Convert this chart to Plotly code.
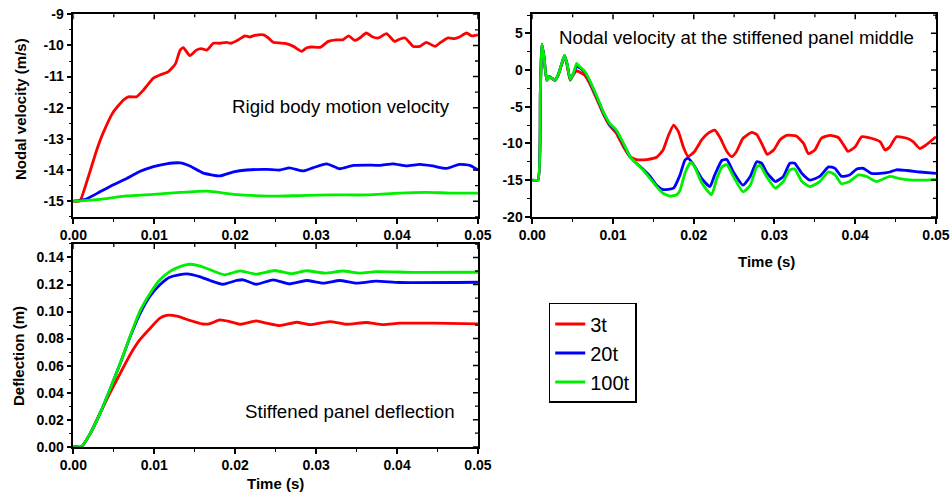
import plotly.graph_objects as go

# ---------------- data ----------------
series_names = ["3t", "20t", "100t"]
series_colors = ["#ff0000", "#0000ff", "#00ee00"]

# Rigid body motion velocity (m/s)
rb_t_3t = [0, 0.0008, 0.0012, 0.0020, 0.0029, 0.0037, 0.0049, 0.0062, 0.0068, 0.0078, 0.0086, 0.0099,
           0.0107, 0.0117, 0.0126, 0.0132, 0.0136, 0.0144, 0.0152, 0.0158, 0.0165, 0.0173, 0.0181, 0.0189,
           0.0195, 0.0204, 0.0212, 0.0218, 0.0224, 0.0235, 0.0241, 0.0247, 0.0255, 0.0263, 0.0272, 0.0282,
           0.0288, 0.0294, 0.0305, 0.0315, 0.0325, 0.0333, 0.0340, 0.0348, 0.0354, 0.0362, 0.0370, 0.0377,
           0.0387, 0.0397, 0.0403, 0.0410, 0.0420, 0.0428, 0.0436, 0.0447, 0.0453, 0.0463, 0.0471, 0.0477,
           0.0486, 0.0492, 0.0500]
rb_v_3t = [-15.0, -15.0, -14.75, -14.1, -13.35, -12.8, -12.15, -11.75, -11.65, -11.65, -11.45, -11.05,
           -10.95, -10.85, -10.6, -10.15, -10.07, -10.33, -10.15, -10.1, -10.15, -9.93, -9.93, -9.9,
           -9.93, -9.82, -9.69, -9.73, -9.68, -9.66, -9.76, -9.9, -9.92, -9.94, -10.03, -10.19,
           -10.08, -10.05, -10.06, -9.87, -9.82, -9.82, -9.69, -9.84, -9.76, -9.6, -9.73, -9.76,
           -9.62, -9.87, -9.8, -9.76, -10.03, -10.03, -9.9, -10.03, -9.92, -9.76, -9.78, -9.73,
           -9.6, -9.69, -9.66]
rb_t_20t = [0, 0.0016, 0.0033, 0.0049, 0.0066, 0.0082, 0.0099, 0.0115, 0.0132, 0.0144, 0.0160, 0.0181,
            0.0198, 0.0214, 0.0239, 0.0255, 0.0267, 0.0284, 0.0296, 0.0313, 0.0329, 0.0346, 0.0362, 0.0379,
            0.0395, 0.0412, 0.0428, 0.0444, 0.0461, 0.0477, 0.0490, 0.0500]
rb_v_20t = [-15.0, -14.93, -14.7, -14.48, -14.27, -14.05, -13.89, -13.8, -13.77, -13.87, -14.09, -14.19,
            -14.06, -14.0, -13.98, -14.0, -13.93, -14.03, -13.93, -13.8, -13.96, -13.85, -13.84, -13.85,
            -13.8, -13.87, -13.82, -13.87, -13.95, -13.82, -13.85, -14.0]
rb_t_100t = [0, 0.0033, 0.0066, 0.0099, 0.0132, 0.0165, 0.0198, 0.0230, 0.0251, 0.0280, 0.0321, 0.0362,
             0.0403, 0.0436, 0.0465, 0.0500]
rb_v_100t = [-15.0, -14.94, -14.83, -14.78, -14.72, -14.68, -14.78, -14.83, -14.84, -14.82, -14.8, -14.8,
             -14.74, -14.72, -14.74, -14.74]

# Nodal velocity at the stiffened panel middle (m/s)
mid_t_early = [0, 0.0007, 0.0010, 0.0012, 0.00145, 0.0018, 0.0021, 0.0024, 0.0028, 0.0032, 0.0036, 0.0040,
               0.0043, 0.0047, 0.0051, 0.0055, 0.0059, 0.0065, 0.0071, 0.0080, 0.0088, 0.0096, 0.0104,
               0.0113, 0.0121, 0.0129, 0.0137]
mid_t_3t = mid_t_early[:25] + [0.0129, 0.0142, 0.0154, 0.0162, 0.0168, 0.0175, 0.0181, 0.0187, 0.0193,
                              0.0201, 0.0210, 0.0218, 0.0226, 0.0232, 0.0241, 0.0247, 0.0253, 0.0261,
                              0.0272, 0.0278, 0.0286, 0.0291, 0.0299, 0.0307, 0.0315, 0.0327, 0.0336,
                              0.0342, 0.0350, 0.0358, 0.0369, 0.0379, 0.0387, 0.0391, 0.0400, 0.0408,
                              0.0420, 0.0431, 0.0437, 0.0443, 0.0451, 0.0464, 0.0472, 0.0480, 0.0488,
                              0.0500]
mid_v_3t = [-15.0, -15.0, -3.0, 3.5, 1.8, -1.4, -0.9, -1.1, -1.4, -0.7, 0.6, 1.9,
            0.7, -1.4, -0.6, -0.1, -0.3, -0.7, -1.8, -4.0, -6.0, -7.6, -8.6,
            -10.5, -11.8,
            -12.2, -12.2, -11.9, -10.9, -9.1, -7.5, -8.4, -10.45, -11.8,
            -11.1, -9.5, -8.6, -8.2, -9.1, -11.1, -11.8, -11.1, -9.3,
            -8.5, -8.8, -10.45, -11.5, -10.9, -9.5, -8.9, -9.0, -10.0,
            -11.4, -10.9, -9.3, -8.9, -9.2, -10.45, -11.1, -10.45, -9.1,
            -9.3, -9.8, -10.9, -10.45, -9.1, -9.3, -9.8, -10.7, -10.2,
            -9.1]
mid_t_20t = mid_t_early + [0.0146, 0.0154, 0.0162, 0.0175, 0.0183, 0.0189, 0.0193, 0.0200, 0.0210,
                           0.0220, 0.0226, 0.0235, 0.0241, 0.0249, 0.0261, 0.0270, 0.0278, 0.0284,
                           0.0290, 0.0301, 0.0311, 0.0319, 0.0325, 0.0334, 0.0344, 0.0356, 0.0367,
                           0.0375, 0.0383, 0.0393, 0.0402, 0.0410, 0.0420, 0.0431, 0.0443, 0.0451,
                           0.0464, 0.0480, 0.0500]
mid_v_20t = [-15.0, -15.0, -3.0, 3.5, 1.8, -1.4, -0.9, -1.1, -1.4, -0.7, 0.7, 2.0,
             0.9, -1.3, -0.5, 0.5, 0.3, -0.3, -1.5, -3.7, -5.8, -7.4, -8.3,
             -10.1, -11.8, -12.7, -13.5,
             -14.5, -15.7, -16.3, -16.1, -14.3, -12.3, -12.0, -12.95, -14.8,
             -15.9, -14.3, -12.3, -12.2, -13.9, -15.7, -14.5, -12.5, -12.7,
             -13.9, -15.2, -14.5, -12.7, -12.7, -14.1, -15.0, -14.5, -13.2,
             -13.4, -14.5, -14.3, -13.5, -13.4, -14.1, -14.1, -13.9, -13.6,
             -13.7, -13.9, -14.1]
mid_t_100t = mid_t_early + [0.0146, 0.0154, 0.0162, 0.0171, 0.0179, 0.0183, 0.0189, 0.0196, 0.0201,
                            0.0210, 0.0222, 0.0228, 0.0235, 0.0241, 0.0249, 0.0261, 0.0270, 0.0278,
                            0.0282, 0.0290, 0.0301, 0.0311, 0.0319, 0.0325, 0.0334, 0.0344, 0.0356,
                            0.0367, 0.0375, 0.0383, 0.0393, 0.0404, 0.0414, 0.0426, 0.0443, 0.0455,
                            0.0472, 0.0488, 0.0500]
mid_v_100t = [-15.0, -15.0, -3.0, 3.5, 1.8, -1.4, -0.9, -1.1, -1.4, -0.7, 0.7, 2.0,
              0.9, -1.3, -0.45, 0.9, 0.45, -0.2, -1.4, -3.6, -5.7, -7.3, -8.2,
              -10.0, -11.8, -12.7, -13.6,
              -14.8, -15.9, -16.8, -17.2, -17.0, -16.4, -14.1, -12.6, -13.2,
              -15.4, -17.0, -15.0, -13.2, -12.9, -14.5, -16.6, -15.7, -13.2,
              -13.0, -14.5, -16.1, -15.2, -13.6, -13.5, -15.2, -15.9, -15.2,
              -13.9, -14.3, -15.5, -15.2, -14.3, -14.5, -15.2, -14.5, -14.8,
              -15.0, -15.0, -14.9]

# Stiffened panel deflection (m)
df_t_3t = [0, 0.0010, 0.0021, 0.0033, 0.0045, 0.0058, 0.0070, 0.0082, 0.0095, 0.0107, 0.0115, 0.0128,
           0.0144, 0.0160, 0.0169, 0.0181, 0.0193, 0.0206, 0.0226, 0.0239, 0.0255, 0.0276, 0.0292,
           0.0317, 0.0337, 0.0362, 0.0383, 0.0403, 0.0444, 0.0500]
df_v_3t = [0, 0, 0.0099, 0.0247, 0.0395, 0.0543, 0.0679, 0.079, 0.0877, 0.0951, 0.0972, 0.0966,
           0.0935, 0.0908, 0.0911, 0.0938, 0.0926, 0.0906, 0.0931, 0.0914, 0.0896, 0.0921, 0.0903,
           0.0926, 0.0906, 0.0919, 0.0903, 0.0914, 0.0914, 0.0909]
df_t_20t = [0, 0.0010, 0.0021, 0.0033, 0.0045, 0.0058, 0.0070, 0.0082, 0.0095, 0.0107, 0.0119, 0.0132,
            0.0140, 0.0156, 0.0169, 0.0185, 0.0202, 0.0210, 0.0226, 0.0247, 0.0267, 0.0288, 0.0309,
            0.0329, 0.0350, 0.0374, 0.0403, 0.0500]
df_v_20t = [0, 0, 0.0099, 0.0247, 0.042, 0.0617, 0.081, 0.098, 0.1116, 0.1198, 0.1254, 0.1274,
            0.1279, 0.1259, 0.123, 0.1202, 0.123, 0.1235, 0.1202, 0.1235, 0.1205, 0.123, 0.121,
            0.123, 0.121, 0.1225, 0.1215, 0.1217]
df_t_100t = [0, 0.0010, 0.0021, 0.0033, 0.0045, 0.0058, 0.0070, 0.0082, 0.0095, 0.0107, 0.0119, 0.0132,
             0.0144, 0.0156, 0.0169, 0.0187, 0.0206, 0.0226, 0.0249, 0.0270, 0.0288, 0.0311, 0.0333,
             0.0354, 0.0374, 0.0420, 0.0500]
df_v_100t = [0, 0, 0.0099, 0.0247, 0.042, 0.0617, 0.0815, 0.1, 0.1136, 0.1235, 0.1296, 0.1333,
             0.1350, 0.1338, 0.1309, 0.1272, 0.1301, 0.1277, 0.1304, 0.1280, 0.1302, 0.1284, 0.1300,
             0.1285, 0.1296, 0.1290, 0.1291]

# ticks
time_ticks = [0.0, 0.01, 0.02, 0.03, 0.04, 0.05]
time_labels = ["0.00", "0.01", "0.02", "0.03", "0.04", "0.05"]
rb_ticks = [-15, -14, -13, -12, -11, -10, -9]
rb_labels = ["-15", "-14", "-13", "-12", "-11", "-10", "-9"]
mid_ticks = [-20, -15, -10, -5, 0, 5]
mid_labels = ["-20", "-15", "-10", "-5", "0", "5"]
df_ticks = [0.0, 0.02, 0.04, 0.06, 0.08, 0.10, 0.12, 0.14]
df_labels = ["0.00", "0.02", "0.04", "0.06", "0.08", "0.10", "0.12", "0.14"]

# ---------------- figure ----------------
FONT = "Liberation Sans"
fig = go.Figure()

panels = [
    ("x", "y", [(rb_t_3t, rb_v_3t), (rb_t_20t, rb_v_20t), (rb_t_100t, rb_v_100t)], True),
    ("x2", "y2", [(mid_t_3t, mid_v_3t), (mid_t_20t, mid_v_20t), (mid_t_100t, mid_v_100t)], False),
    ("x3", "y3", [(df_t_3t, df_v_3t), (df_t_20t, df_v_20t), (df_t_100t, df_v_100t)], False),
]
for xa, ya, curves, show in panels:
    for (t, v), name, color in zip(curves, series_names, series_colors):
        fig.add_trace(go.Scatter(
            x=t, y=v, mode="lines", name=name, xaxis=xa, yaxis=ya,
            line=dict(color=color, width=2.8, shape="spline", smoothing=0.5),
            showlegend=show,
        ))

tickfont = dict(family=FONT, size=14, color="black", weight="bold")
titlefont = dict(family=FONT, size=15, color="black", weight="bold")
notefont = dict(family=FONT, size=18.7, color="black")


def axis(domain, anchor, rng, tickvals, ticktext, minor_dtick, tick0=0):
    return dict(
        domain=domain, anchor=anchor, range=rng, tickvals=tickvals, ticktext=ticktext,
        showline=True, linecolor="black", linewidth=1.6, mirror=True,
        ticks="outside", ticklen=5, tickwidth=1.5, tickcolor="black",
        minor=dict(ticks="outside", ticklen=3, tickwidth=1.3, tickcolor="black",
                   dtick=minor_dtick, tick0=tick0),
        showgrid=False, zeroline=False, tickfont=tickfont, automargin=False,
    )


def with_halves(ticks, rng):
    """Major ticks plus the half-step minor positions inside the axis range."""
    step = ticks[1] - ticks[0]
    out = []
    for v in ticks + [ticks[0] - step / 2] + [t + step / 2 for t in ticks]:
        if rng[0] - 1e-9 <= v <= rng[1] + 1e-9:
            out.append((v, abs(round((v - ticks[0]) / step) * step + ticks[0] - v) < 1e-9))
    return out


def frame_ticks(xa, ya, xticks, xrng, yticks, yrng):
    # inward-pointing ticks along the top and right frame edges
    shapes = []
    for v, major in with_halves(xticks, xrng):
        shapes.append(dict(type="line", xref=xa, yref=f"{ya} domain", x0=v, x1=v,
                           ysizemode="pixel", yanchor=1, y0=0, y1=-(5 if major else 3),
                           line=dict(color="black", width=1.5 if major else 1.3)))
    for v, major in with_halves(yticks, yrng):
        shapes.append(dict(type="line", yref=ya, xref=f"{xa} domain", y0=v, y1=v,
                           xsizemode="pixel", xanchor=1, x0=0, x1=-(5 if major else 3),
                           line=dict(color="black", width=1.5 if major else 1.3)))
    return shapes


left_dom = [0.0771, 0.5026]
right_dom = [0.5597, 0.9842]
top_dom = [0.5604, 0.971]
bot_dom = [0.0939, 0.5051]
t_range = [0, 0.05]
rb_range = [-15.5, -9]
mid_range = [-20, 7.6]
df_range = [0, 0.15]


def note(text, px, py, font, angle=0):
    return dict(text=text, xref="paper", yref="paper", x=px / 951, y=1 - py / 493,
                xanchor="center", yanchor="middle", showarrow=False, font=font,
                textangle=angle)


shapes = (frame_ticks("x", "y", time_ticks, t_range, rb_ticks, rb_range)
          + frame_ticks("x2", "y2", time_ticks, t_range, mid_ticks, mid_range)
          + frame_ticks("x3", "y3", time_ticks, t_range, df_ticks, df_range))

fig.update_layout(
    width=951, height=493,
    margin=dict(l=0, r=0, t=0, b=0),
    paper_bgcolor="white", plot_bgcolor="white",
    font=dict(family=FONT, color="black"),
    xaxis=axis(left_dom, "y", t_range, time_ticks, time_labels, 0.005),
    yaxis=axis(top_dom, "x", rb_range, rb_ticks, rb_labels, 0.5, tick0=-15.5),
    xaxis2=axis(right_dom, "y2", t_range, time_ticks, time_labels, 0.005),
    yaxis2=axis(top_dom, "x2", mid_range, mid_ticks, mid_labels, 2.5, tick0=-20),
    xaxis3=axis(left_dom, "y3", t_range, time_ticks, time_labels, 0.005),
    yaxis3=axis(bot_dom, "x3", df_range, df_ticks, df_labels, 0.01),
    shapes=shapes,
    legend=dict(
        x=0.577, y=0.3854, xanchor="left", yanchor="top",
        font=dict(family=FONT, size=20, color="black"),
        bordercolor="black", borderwidth=1.5, bgcolor="white",
        itemwidth=30, tracegroupgap=0,
    ),
    annotations=[
        note("Rigid body motion velocity", 341, 107, notefont),
        note("Nodal velocity at the stiffened panel middle", 736, 37, notefont),
        note("Stiffened panel deflection", 350, 411.7, notefont),
        note("Nodal velocity (m/s)", 20, 109, titlefont, -90),
        note("Deflection (m)", 18, 356, titlefont, -90),
        note("Time (s)", 766.7, 261.7, titlefont),
        note("Time (s)", 275, 483, titlefont),
    ],
)

fig.write_html("out.html")
